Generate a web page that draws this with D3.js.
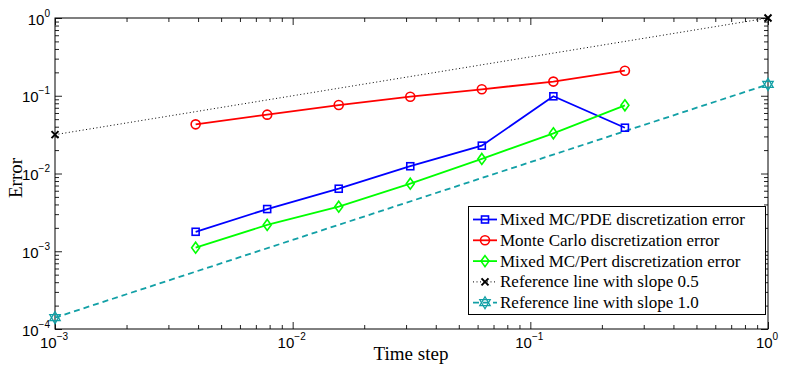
<!DOCTYPE html>
<html><head><meta charset="utf-8">
<script src="https://cdn.jsdelivr.net/npm/d3@7"></script>
<style>body{margin:0;background:#fff}svg{display:block}</style>
</head><body>
<svg id="c" width="789" height="369"></svg>
<script>
const timeSteps = [0.00390625, 0.0078125, 0.015625, 0.03125, 0.0625, 0.125, 0.25];
const mixedPDE = [0.00178, 0.00349, 0.00637, 0.0124, 0.0228, 0.0984, 0.0388];
const monteCarlo = [0.0429, 0.0571, 0.076, 0.0972, 0.121, 0.152, 0.210];
const mixedPert = [0.00111, 0.00218, 0.00374, 0.0074, 0.0154, 0.0329, 0.0753];
const refX = [0.001, 1];
const refSlope05 = [0.0316, 1];
const refSlope10 = [0.00014, 0.14];
const xTickExps = [-3, -2, -1, 0];
const yTickExps = [-4, -3, -2, -1, 0];
const legendLabels = ["Mixed MC/PDE discretization error", "Monte Carlo discretization error",
  "Mixed MC/Pert discretization error", "Reference line with slope 0.5", "Reference line with slope 1.0"];

const svg = d3.select("#c");
const L = 55, R = 768, T = 18, B = 329;
const x = d3.scaleLog().domain([1e-3, 1]).range([L, R]);
const y = d3.scaleLog().domain([1e-4, 1]).range([B, T]);

const isMajor = v => Math.abs(Math.log10(v) - Math.round(Math.log10(v))) < 1e-9;
const xt = x.ticks(), yt = y.ticks();
const xMajor = xt.filter(isMajor), xMinor = xt.filter(v => !isMajor(v));
const yMajor = yt.filter(isMajor), yMinor = yt.filter(v => !isMajor(v));

const g = svg.append("g");
function addAxis(gen, transform, vals, size) {
  const a = g.append("g").attr("transform", transform)
    .call(gen.tickValues(vals).tickSize(-size).tickFormat(""));
  a.select(".domain").remove();
  a.selectAll("line").attr("stroke", "#222").attr("stroke-width", 1);
}
addAxis(d3.axisBottom(x), `translate(0,${B})`, xMinor, 4);
addAxis(d3.axisBottom(x), `translate(0,${B})`, xMajor, 7);
addAxis(d3.axisTop(x), `translate(0,${T})`, xMinor, 4);
addAxis(d3.axisTop(x), `translate(0,${T})`, xMajor, 7);
addAxis(d3.axisLeft(y), `translate(${L},0)`, yMinor, 4);
addAxis(d3.axisLeft(y), `translate(${L},0)`, yMajor, 7);
addAxis(d3.axisRight(y), `translate(${R},0)`, yMinor, 4);
addAxis(d3.axisRight(y), `translate(${R},0)`, yMajor, 7);

g.append("rect").attr("x", L).attr("y", T).attr("width", R - L).attr("height", B - T)
  .attr("fill", "none").attr("stroke", "#000").attr("stroke-width", 1);

// tick labels
const tf = "'Liberation Sans', Arial, sans-serif";
xTickExps.forEach(e => {
  const t = g.append("text").attr("x", x(Math.pow(10, e)) - 1).attr("y", 348)
    .attr("text-anchor", "middle").attr("font-family", tf).attr("font-size", 15).attr("fill", "#000");
  t.append("tspan").text("10");
  t.append("tspan").attr("font-size", 10).attr("dy", -8).text(e === 0 ? "0" : "\u2212" + (-e));
});
yTickExps.forEach(e => {
  const t = g.append("text").attr("x", 50).attr("y", y(Math.pow(10, e)) + 6.5)
    .attr("text-anchor", "end").attr("font-family", tf).attr("font-size", 15).attr("fill", "#000");
  t.append("tspan").text("10");
  t.append("tspan").attr("font-size", 10).attr("dy", -8).text(e === 0 ? "0" : "\u2212" + (-e));
});

const sf = "'Liberation Serif', 'Times New Roman', serif";
g.append("text").attr("x", 411).attr("y", 360).attr("text-anchor", "middle")
  .attr("font-family", sf).attr("font-size", 19).text("Time step");
g.append("text").attr("transform", "translate(22,178) rotate(-90)").attr("text-anchor", "middle")
  .attr("font-family", sf).attr("font-size", 19).text("Error");

// markers
function marker(sel, type, color, cx, cy) {
  if (type === "square") {
    sel.append("rect").attr("x", cx - 3.5).attr("y", cy - 3.5).attr("width", 7).attr("height", 7)
      .attr("fill", "none").attr("stroke", color).attr("stroke-width", 1.6);
  } else if (type === "circle") {
    sel.append("circle").attr("cx", cx).attr("cy", cy).attr("r", 4.5)
      .attr("fill", "none").attr("stroke", color).attr("stroke-width", 1.6);
  } else if (type === "diamond") {
    sel.append("path").attr("d", `M${cx},${cy - 5.5}L${cx + 4},${cy}L${cx},${cy + 5.5}L${cx - 4},${cy}Z`)
      .attr("fill", "none").attr("stroke", color).attr("stroke-width", 1.6);
  } else if (type === "x") {
    sel.append("path").attr("d", `M${cx - 3.5},${cy - 3.5}L${cx + 3.5},${cy + 3.5}M${cx - 3.5},${cy + 3.5}L${cx + 3.5},${cy - 3.5}`)
      .attr("stroke", color).attr("stroke-width", 2);
  } else if (type === "hexagram") {
    const r = 6;
    const tri = (off) => d3.range(3).map(i => {
      const a = off + i * 2 * Math.PI / 3;
      return [cx + r * Math.sin(a), cy - r * Math.cos(a)];
    });
    [0, Math.PI].forEach(off => {
      sel.append("path").attr("d", "M" + tri(off).map(p => p.join(",")).join("L") + "Z")
        .attr("fill", "none").attr("stroke", color).attr("stroke-width", 1.3);
    });
  }
}

const series = [
  {xs: timeSteps, ys: mixedPDE, color: "#0000ff", m: "square", dash: null, w: 1.8},
  {xs: timeSteps, ys: monteCarlo, color: "#ff0000", m: "circle", dash: null, w: 1.8},
  {xs: timeSteps, ys: mixedPert, color: "#00ff00", m: "diamond", dash: null, w: 1.8},
  {xs: refX, ys: refSlope05, color: "#000000", m: "x", dash: "1,2.5", w: 1},
  {xs: refX, ys: refSlope10, color: "#12a0a6", m: "hexagram", dash: "6,4", w: 1.8}
];
const line = d3.line().x(d => x(d[0])).y(d => y(d[1]));
const order = [4, 3, 0, 1, 2];
order.forEach(i => {
  const s = series[i];
  const pts = s.xs.map((v, j) => [v, s.ys[j]]);
  g.append("path").attr("d", line(pts)).attr("fill", "none").attr("stroke", s.color)
    .attr("stroke-width", s.w).attr("stroke-dasharray", s.dash);
  pts.forEach(p => marker(g, s.m, s.color, x(p[0]), y(p[1])));
});

// legend
const lg = g.append("g");
lg.append("rect").attr("x", 468.5).attr("y", 206.5).attr("width", 297).attr("height", 108)
  .attr("fill", "#fff").attr("stroke", "#000").attr("stroke-width", 1);
const ly = [219.5, 240.3, 261.1, 281.9, 302.7];
series.forEach((s, i) => {
  lg.append("line").attr("x1", 473).attr("x2", 497).attr("y1", ly[i]).attr("y2", ly[i])
    .attr("stroke", s.color).attr("stroke-width", s.w).attr("stroke-dasharray", s.dash);
  marker(lg, s.m, s.color, 485, ly[i]);
  lg.append("text").attr("x", 500).attr("y", ly[i] + 5.5).attr("font-family", sf)
    .attr("font-size", 17).text(legendLabels[i]);
});
</script>
</body></html>
